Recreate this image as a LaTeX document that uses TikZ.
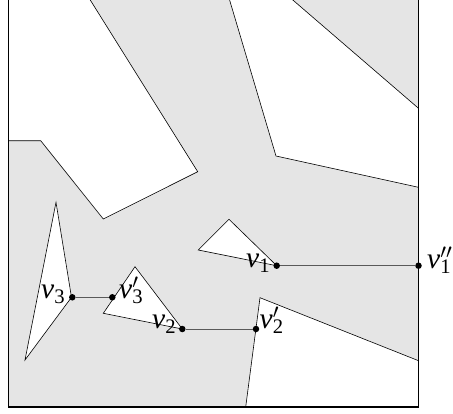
\documentclass[tikz,border=0pt]{standalone}
\usepackage{fontspec}
\setmainfont{Liberation Serif}
\usetikzlibrary{positioning}

\newcommand{\vtx}[2]{\textit{v}\rlap{$^{#2}$}\textsubscript{#1}}

\begin{document}
\begin{tikzpicture}[x=1pt, y=-1pt,
    font=\fontsize{29.5}{33}\selectfont,
    freespace/.style={fill=black!10},
    obstacle/.style={draw=black, fill=white, line width=0.6pt},
    border/.style={draw=black, line width=1.3pt},
    vertex/.style={circle, fill=black, inner sep=0pt, minimum size=6.5pt},
    link/.style={draw=black!65, line width=0.7pt},
    vlabel/.style={inner sep=0pt, anchor=base west}
]

\useasboundingbox (0,0) rectangle (453,413);
\clip (0,0) rectangle (453,413);

\fill[freespace] (8.5,-2) rectangle (418.5,407);

\draw[obstacle] (8.5,-2) -- (89,-2) -- (197.7,171.7) -- (103.3,219) -- (40.7,140.7) -- (8.5,140.7) -- cycle;
\draw[obstacle] (229,-2) -- (276,156) -- (418.5,187.3) -- (418.5,108.3) -- (290.5,-2) -- cycle;
\draw[obstacle] (260,297.7) -- (418.5,360.7) -- (418.5,407) -- (245.7,407) -- cycle;
\draw[obstacle] (198.3,250) -- (229,219.3) -- (276.7,265.7) -- cycle;
\draw[obstacle] (103.3,313.3) -- (135,266.7) -- (182.3,329) -- cycle;
\draw[obstacle] (56,202.3) -- (71.5,297.3) -- (25,360) -- cycle;

\draw[border] (8.5,-2) -- (8.5,407) -- (418.5,407) -- (418.5,-2);

\node[vertex] (v1) at (276.7,265.7) {};
\node[vertex] (v1pp) at (418.5,265.7) {};
\node[vertex] (v2) at (182.3,329) {};
\node[vertex] (v2p) at (256,329) {};
\node[vertex] (v3) at (72.3,297.3) {};
\node[vertex] (v3p) at (112.3,297.3) {};

\draw[link] (v1) -- (v1pp);
\draw[link] (v2) -- (v2p);
\draw[link] (v3) -- (v3p);

\node[vlabel] (l1) at (246,267) {\vtx{1}{}};
\node[vlabel] (l1pp) at (427,268) {\vtx{1}{\prime\prime}};
\node[vlabel] (l2) at (152,328) {\vtx{2}{}};
\node[vlabel] (l2p) at (259.5,328) {\vtx{2}{\prime}};
\node[vlabel] (l3) at (41,298) {\vtx{3}{}};
\node[vlabel] (l3p) at (119,298) {\vtx{3}{\prime}};

\end{tikzpicture}
\end{document}
